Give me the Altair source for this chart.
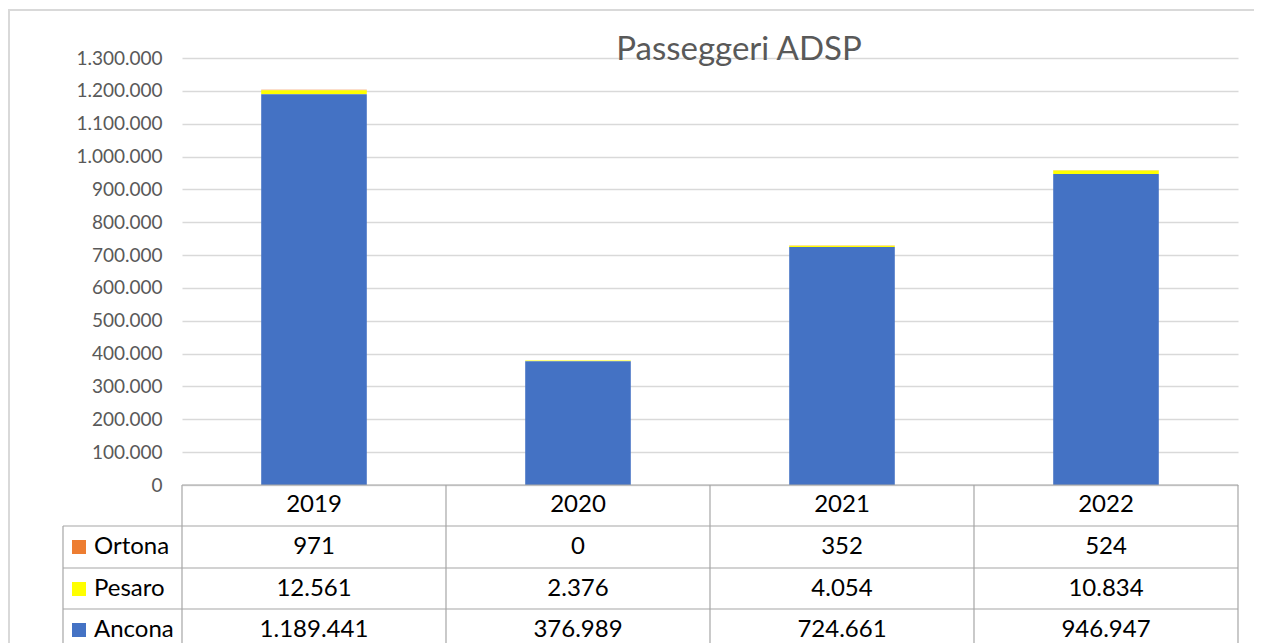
import altair as alt
import pandas as pd

years = ["2019", "2020", "2021", "2022"]
series = ["Ortona", "Pesaro", "Ancona"]
ancona = [1189441, 376989, 724661, 946947]
pesaro = [12561, 2376, 4054, 10834]
ortona = [971, 0, 352, 524]
colors = ["#ED7D31", "#FFFF00", "#4472C4"]
y_ticks = list(range(0, 1300001, 100000))

values = {"Ortona": ortona, "Pesaro": pesaro, "Ancona": ancona}
stack_order = {"Ancona": 0, "Pesaro": 1, "Ortona": 2}

rows = []
for s in series:
    for yr, v in zip(years, values[s]):
        rows.append({"year": yr, "series": s, "value": v,
                     "order": stack_order[s],
                     "label": f"{v:,}".replace(",", ".")})
df = pd.DataFrame(rows)

W, H = 1056, 427
FONT = "Lato"
GRID = "#D9D9D9"
TBL = "#A6A6A6"

xscale = alt.Scale(domain=years, paddingInner=0.6, paddingOuter=0.3)
cscale = alt.Scale(domain=series, range=colors)

base = alt.Chart(df)

bars = base.mark_bar().encode(
    x=alt.X("year:N", scale=xscale, axis=None),
    y=alt.Y("value:Q", stack="zero",
            scale=alt.Scale(domain=[0, 1300000], nice=False),
            axis=alt.Axis(values=y_ticks, title=None, domain=False, ticks=False,
                          labelPadding=20, labelFont=FONT, labelFontSize=19,
                          labelColor="#595959", gridColor=GRID, gridWidth=1.5,
                          labelExpr="replace(format(datum.value, ',d'), /,/g, '.')")),
    color=alt.Color("series:N", scale=cscale, legend=None),
    order=alt.Order("order:Q"),
)

dummy = alt.Chart(pd.DataFrame({"d": [0]}))

layers = [bars]

# outer chart border
layers.append(dummy.mark_rect(filled=False, stroke=GRID, strokeWidth=2).encode(
    x=alt.value(-173), x2=alt.value(1300), y=alt.value(-48), y2=alt.value(700)))

# title
title_df = pd.DataFrame({"t": ["Passeggeri ADSP"]})
layers.append(alt.Chart(title_df).mark_text(font=FONT, fontSize=33, color="#595959",
                                           baseline="alphabetic", align="center").encode(
    x=alt.value(557), y=alt.value(2), text="t:N"))

# table grid
row_lines = [427, 468, 510, 551, 593]
for i, ry in enumerate(row_lines):
    x0 = 0 if i == 0 else -119
    layers.append(dummy.mark_rule(color=TBL, strokeWidth=1.2).encode(
        x=alt.value(x0), x2=alt.value(W), y=alt.value(ry)))
col_lines = [0, 264, 528, 792, 1056]
for cx in col_lines:
    layers.append(dummy.mark_rule(color=TBL, strokeWidth=1.2).encode(
        x=alt.value(cx), y=alt.value(427), y2=alt.value(640)))
layers.append(dummy.mark_rule(color=TBL, strokeWidth=1.2).encode(
    x=alt.value(-119), y=alt.value(468), y2=alt.value(640)))

# header years
layers.append(base.transform_filter(alt.datum.series == "Ancona").mark_text(
    font=FONT, fontSize=24, color="#000000", baseline="middle").encode(
    x=alt.X("year:N", scale=xscale, axis=None), y=alt.value(447), text="year:N"))

row_y = {"Ortona": 489, "Pesaro": 531, "Ancona": 572}
for s in series:
    sub = base.transform_filter(alt.datum.series == s)
    layers.append(sub.mark_text(font=FONT, fontSize=24, color="#000000",
                                baseline="middle").encode(
        x=alt.X("year:N", scale=xscale, axis=None), y=alt.value(row_y[s]),
        text="label:N"))
    first = sub.transform_filter(alt.datum.year == years[0])
    layers.append(first.mark_square(size=196, opacity=1).encode(
        x=alt.value(-103), y=alt.value(row_y[s]),
        color=alt.Color("series:N", scale=cscale, legend=None)))
    layers.append(first.mark_text(font=FONT, fontSize=24, color="#000000",
                                  baseline="middle", align="left").encode(
        x=alt.value(-88), y=alt.value(row_y[s]), text="series:N"))

chart = alt.layer(*layers).properties(
    width=W, height=H,
    autosize=alt.AutoSizeParams(type="none"),
    padding={"left": 174, "top": 50, "right": 16, "bottom": 158},
).configure_view(strokeWidth=0)

chart.save("out.html", embed_options={"renderer": "svg", "actions": False})
